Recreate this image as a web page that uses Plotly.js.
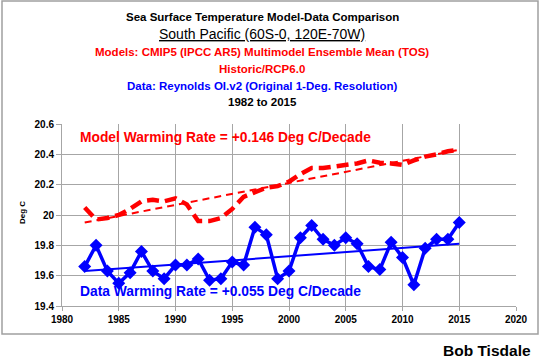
<!DOCTYPE html>
<html>
<head>
<meta charset="utf-8">
<script src="https://cdn.plot.ly/plotly-3.0.1.min.js"></script>
<style>
html,body{margin:0;padding:0;background:#fff;}
#chart{width:540px;height:362px;}
</style>
</head>
<body>
<div id="chart"></div>
<script>
const years = [1982,1983,1984,1985,1986,1987,1988,1989,1990,1991,1992,1993,1994,1995,1996,1997,1998,1999,2000,2001,2002,2003,2004,2005,2006,2007,2008,2009,2010,2011,2012,2013,2014,2015];
const modelSST = [20.05,19.97,19.98,20.00,20.04,20.09,20.10,20.09,20.11,20.07,19.96,19.96,19.98,20.04,20.12,20.15,20.18,20.19,20.22,20.27,20.31,20.31,20.32,20.33,20.34,20.36,20.345,20.34,20.33,20.36,20.385,20.40,20.42,20.43];
const dataSST = [19.66,19.80,19.63,19.55,19.62,19.76,19.63,19.58,19.67,19.67,19.71,19.57,19.58,19.69,19.67,19.92,19.87,19.58,19.63,19.85,19.93,19.84,19.80,19.85,19.81,19.66,19.64,19.82,19.72,19.54,19.78,19.84,19.84,19.95];
const trendYears = [1982, 2015];
const modelTrend = [19.95, 20.43];
const dataTrend = [19.63, 19.81];
const xTicks = [1980,1985,1990,1995,2000,2005,2010,2015,2020];
const yTicks = [19.4,19.6,19.8,20,20.2,20.4,20.6];

const titleLines = [
  {text:'<b>Sea Surface Temperature Model-Data Comparison</b>', color:'#000000', size:11.5},
  {text:'<u>South Pacific (60S-0, 120E-70W)</u>', color:'#000000', size:14},
  {text:'<b>Models: CMIP5 (IPCC AR5) Multimodel Ensemble Mean (TOS)</b>', color:'#ff0000', size:11.5},
  {text:'<b>Historic/RCP6.0</b>', color:'#ff0000', size:11.5},
  {text:'<b>Data: Reynolds OI.v2 (Original 1-Deg. Resolution)</b>', color:'#0000ff', size:11.5},
  {text:'<b>1982 to 2015</b>', color:'#000000', size:11.5}
];
const titleY = [16.7, 33.5, 52, 69, 86, 102];

const L = 62, R = 516, T = 124, B = 306;
const pw = R - L, ph = B - T;
const py = p => (B - p) / ph;
const px = p => (p - L) / pw;

const font = 'Liberation Sans, Arial, sans-serif';

const traces = [
  {x: trendYears, y: modelTrend, mode:'lines', line:{color:'#ff0000', width:2, dash:'7px,5px'}, hoverinfo:'skip'},
  {x: trendYears, y: dataTrend, mode:'lines', line:{color:'#0000ff', width:2}, hoverinfo:'skip'},
  {x: years, y: modelSST, mode:'lines', line:{color:'#ff0000', width:4.5, dash:'12px,6px'}, hoverinfo:'skip'},
  {x: years, y: dataSST, mode:'lines+markers', line:{color:'#0000ff', width:3.5}, marker:{symbol:'diamond', size:10, color:'#0000ff'}, hoverinfo:'skip'}
];

const annotations = titleLines.map((t, i) => ({
  xref:'paper', yref:'paper', x: px(262), y: py(titleY[i]), xanchor:'center', yanchor:'middle',
  text: t.text, showarrow:false, font:{family:font, size:t.size, color:t.color}
}));
annotations.push({xref:'paper', yref:'paper', x: px(78), y: py(137), xanchor:'left', yanchor:'middle',
  text:'<b>Model Warming Rate = +0.146 Deg C/Decade</b>', showarrow:false, font:{family:font, size:13.8, color:'#ff0000'}});
annotations.push({xref:'paper', yref:'paper', x: px(78), y: py(291.5), xanchor:'left', yanchor:'middle',
  text:'<b>Data Warming Rate = +0.055 Deg C/Decade</b>', showarrow:false, font:{family:font, size:13.8, color:'#0000ff'}});
annotations.push({xref:'paper', yref:'paper', x: px(533), y: py(350), xanchor:'right', yanchor:'middle',
  text:'<b>Bob Tisdale</b>', showarrow:false, font:{family:font, size:15.5, color:'#000000'}});
annotations.push({xref:'paper', yref:'paper', x: px(22), y: py(213), xanchor:'center', yanchor:'middle', textangle:-90,
  text:'<b>Deg C</b>', showarrow:false, font:{family:font, size:8, color:'#000000'}});

const layout = {
  width:540, height:362,
  margin:{l:L, r:540-R, t:T, b:362-B, pad:0},
  paper_bgcolor:'#ffffff', plot_bgcolor:'#ffffff',
  showlegend:false,
  xaxis:{range:[1980,2020], tickvals:xTicks, ticktext:xTicks.map(String), showgrid:true, gridcolor:'#a6a6a6', gridwidth:1,
    showline:true, linecolor:'#a6a6a6', linewidth:1, ticks:'outside', ticklen:4, tickcolor:'#a6a6a6',
    tickfont:{family:font, size:10, color:'#000000', weight:'bold'}, zeroline:false, fixedrange:true},
  yaxis:{range:[19.4,20.6], tickvals:yTicks, ticktext:yTicks.map(String), showgrid:true, gridcolor:'#a6a6a6', gridwidth:1,
    showline:true, linecolor:'#a6a6a6', linewidth:1, ticks:'outside', ticklen:5, tickcolor:'#a6a6a6',
    tickfont:{family:font, size:10, color:'#000000', weight:'bold'}, zeroline:false, fixedrange:true},
  annotations: annotations,
  shapes:[{type:'rect', xref:'paper', yref:'paper', x0:px(2), x1:px(538), y0:py(334), y1:py(1),
    line:{color:'#a0a0a0', width:1.5}, fillcolor:'rgba(0,0,0,0)', layer:'below'}]
};

Plotly.newPlot('chart', traces, layout, {displayModeBar:false, staticPlot:true});
</script>
</body>
</html>
